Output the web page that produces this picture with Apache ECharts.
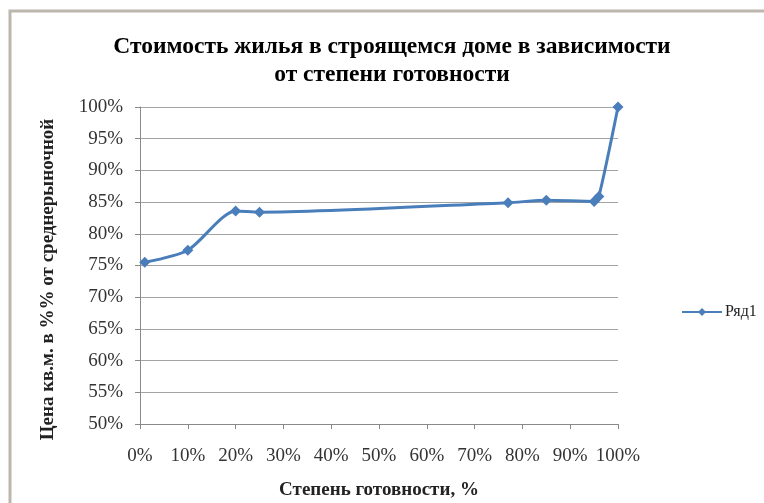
<!DOCTYPE html>
<html>
<head>
<meta charset="utf-8">
<script src="https://cdn.jsdelivr.net/npm/echarts@6/dist/echarts.min.js"></script>
<style>
html,body{margin:0;padding:0;background:#fff;}
#c{width:764px;height:503px;}
</style>
</head>
<body>
<div id="c"></div>
<script>
const readiness = [1, 10, 20, 25, 77, 85, 95, 96, 100];
const pricePct = [75.5, 77.4, 83.6, 83.4, 84.9, 85.3, 85.1, 85.9, 100];
const seriesName = 'Ряд1';
const titleText = 'Стоимость жилья в строящемся доме в зависимости\nот степени готовности';
const xAxisName = 'Степень готовности, %';
const yAxisName = 'Цена кв.м. в %% от среднерыночной';

const serif = '"Liberation Serif", "DejaVu Serif", serif';
const chart = echarts.init(document.getElementById('c'));
chart.setOption({
  backgroundColor: '#fff',
  animation: false,
  graphic: [{
    type: 'rect', silent: true, z: -1,
    shape: { x: 10, y: 11, width: 800, height: 560 },
    style: { fill: 'none', stroke: '#bdb6ae', lineWidth: 3 }
  }],
  title: {
    text: titleText,
    left: 387, top: 28, textAlign: 'center',
    textStyle: { fontFamily: serif, fontWeight: 'bold', fontSize: 23.5, color: '#000', lineHeight: 28 }
  },
  legend: {
    data: [seriesName],
    orient: 'vertical',
    left: 676, top: 299,
    itemWidth: 40, itemHeight: 10, itemGap: 4,
    textStyle: { fontFamily: serif, fontSize: 16, color: '#222', padding: [0, 0, 0, -2] }
  },
  grid: { left: 140, right: 146, top: 107, bottom: 79, outerBoundsMode: 'none', containLabel: false },
  xAxis: {
    type: 'value', min: 0, max: 100, interval: 10,
    name: xAxisName, nameLocation: 'middle', nameGap: 57,
    nameTextStyle: { fontFamily: serif, fontWeight: 'bold', fontSize: 19, color: '#222' },
    axisLine: { lineStyle: { color: '#8a8a8a' } },
    axisTick: { show: true, length: 5, lineStyle: { color: '#8a8a8a' } },
    splitLine: { show: false },
    axisLabel: { formatter: v => v + '%', fontFamily: serif, fontSize: 19, color: '#333', margin: 23 }
  },
  yAxis: {
    type: 'value', min: 50, max: 100, interval: 5,
    name: yAxisName, nameLocation: 'middle', nameGap: 82, nameRotate: 90,
    nameTextStyle: { fontFamily: serif, fontWeight: 'bold', fontSize: 19, color: '#222', padding: [0, 28, 0, 0] },
    axisLine: { show: true, lineStyle: { color: '#8a8a8a' } },
    axisTick: { show: true, length: 5, inside: false, lineStyle: { color: '#8a8a8a' } },
    splitLine: { show: true, lineStyle: { color: '#a3a3a3' } },
    axisLabel: { formatter: v => v + '%', fontFamily: serif, fontSize: 19, color: '#333', margin: 17 }
  },
  series: [{
    name: seriesName,
    type: 'line',
    smooth: 0.25,
    data: readiness.map((x, i) => [x, pricePct[i]]),
    symbol: 'diamond', symbolSize: 11,
    lineStyle: { color: '#4a7ebb', width: 3 },
    itemStyle: { color: '#4a7ebb' }
  }]
});
</script>
</body>
</html>
